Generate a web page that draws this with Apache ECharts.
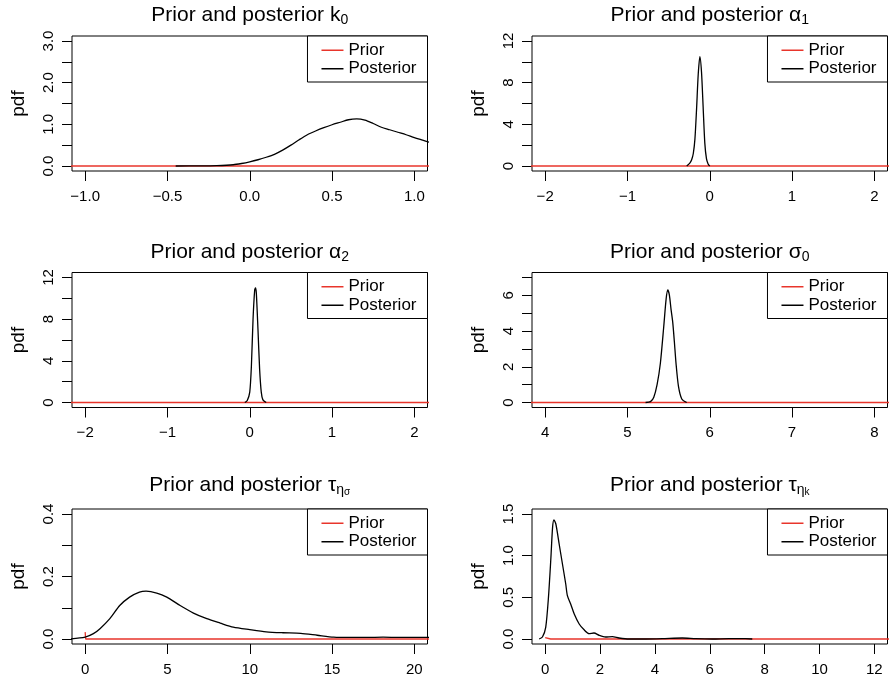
<!DOCTYPE html>
<html>
<head>
<meta charset="utf-8">
<script src="https://cdn.jsdelivr.net/npm/echarts@6/dist/echarts.min.js"></script>
<style>
  html, body { margin: 0; padding: 0; background: #fff; }
  #chart { width: 889px; height: 681px; }
</style>
</head>
<body>
<div id="chart"></div>
<script>
// posterior densities
const k0X = [-0.45, -0.3, -0.2, -0.1, -0.05, 0, 0.05, 0.1, 0.15, 0.2, 0.25, 0.3, 0.35, 0.4, 0.45, 0.5, 0.55, 0.6, 0.65, 0.7, 0.75, 0.8, 0.85, 0.9, 0.95, 1.0, 1.05, 1.1];
const k0Y = [0, 0.003, 0.01, 0.03, 0.06, 0.1, 0.15, 0.21, 0.28, 0.38, 0.5, 0.63, 0.75, 0.84, 0.92, 0.99, 1.05, 1.11, 1.13, 1.1, 1.02, 0.93, 0.87, 0.81, 0.75, 0.68, 0.62, 0.56];

const a1X = [-0.28, -0.24, -0.22, -0.2, -0.18, -0.16, -0.14, -0.12, -0.1, -0.08, -0.06, -0.04, -0.02, 0];
const a1Y = [0, 0.3, 0.6, 1.2, 2.6, 5.5, 8.8, 10.5, 9.0, 5.6, 2.2, 0.7, 0.2, 0];

const a2X = [-0.06, -0.03, 0, 0.02, 0.04, 0.06, 0.07, 0.08, 0.1, 0.12, 0.14, 0.16, 0.2];
const a2Y = [0, 0.2, 1.0, 3.5, 8.0, 10.8, 11.0, 10.5, 7.0, 3.2, 1.0, 0.25, 0];

const s0X = [5.22, 5.28, 5.32, 5.36, 5.40, 5.44, 5.47, 5.49, 5.51, 5.53, 5.55, 5.57, 5.59, 5.62, 5.66, 5.72];
const s0Y = [0, 0.05, 0.3, 1.0, 2.2, 4.2, 5.8, 6.3, 6.0, 5.2, 4.5, 3.4, 2.2, 0.9, 0.2, 0];

const tsX = [-1, 0, 0.5, 0.9, 1.5, 2.1, 2.7, 3.3, 3.7, 4.35, 4.96, 5.77, 6.58, 7.39, 8.2, 9.0, 10.0, 11.0, 12.0, 13.1, 14.1, 15.1, 16.1, 17.1, 18.1, 19.1, 20.1, 21];
const tsY = [0, 0.006, 0.017, 0.033, 0.065, 0.107, 0.134, 0.150, 0.153, 0.147, 0.134, 0.107, 0.083, 0.065, 0.051, 0.038, 0.030, 0.023, 0.020, 0.018, 0.012, 0.006, 0.005, 0.005, 0.006, 0.005, 0.005, 0.005];

const tkX = [-0.22, -0.1, 0.02, 0.12, 0.21, 0.27, 0.32, 0.39, 0.51, 0.63, 0.75, 0.81, 0.93, 1.06, 1.24, 1.42, 1.6, 1.78, 1.97, 2.2, 2.45, 2.69, 3.06, 3.67, 4.27, 5.0, 5.49, 6.1, 6.7, 7.3, 7.55];
const tkY = [0, 0.024, 0.14, 0.5, 0.98, 1.34, 1.43, 1.38, 1.14, 0.9, 0.66, 0.52, 0.42, 0.30, 0.18, 0.11, 0.064, 0.072, 0.044, 0.024, 0.028, 0.012, 0, 0, 0.004, 0.012, 0.004, 0, 0.004, 0.004, 0];

// priors are flat at this scale
const k0PriorX = [-1.1, 1.1];
const k0PriorY = [0, 0];
const a1PriorX = [-2.2, 2.2];
const a1PriorY = [0, 0];
const a2PriorX = [-2.2, 2.2];
const a2PriorY = [0, 0];
const s0PriorX = [3.8, 8.2];
const s0PriorY = [0, 0];
const tsPriorX = [0, 0.03, 21];
const tsPriorY = [0.022, 0, 0];
const tkPriorX = [0, 0.06, 0.2, 12.6];
const tkPriorY = [0.016, 0.004, 0, 0];

// tick positions / labels
const k0XTicks = [-1, -0.5, 0, 0.5, 1];
const k0YTicks = [0, 0.5, 1, 1.5, 2, 2.5, 3];
const k0YLabels = [0, 1, 2, 3];
const aXTicks = [-2, -1, 0, 1, 2];
const aYTicks = [0, 2, 4, 6, 8, 10, 12];
const aYLabels = [0, 4, 8, 12];
const s0XTicks = [4, 5, 6, 7, 8];
const s0YTicks = [0, 1, 2, 3, 4, 5, 6, 7];
const s0YLabels = [0, 2, 4, 6];
const tsXTicks = [0, 5, 10, 15, 20];
const tsYTicks = [0, 0.1, 0.2, 0.3, 0.4];
const tsYLabels = [0, 0.2, 0.4];
const tkXTicks = [0, 2, 4, 6, 8, 10, 12];
const tkYTicks = [0, 0.5, 1, 1.5];
const tkYLabels = [0, 0.5, 1, 1.5];

const FONT = '"Liberation Sans", Arial, Helvetica, sans-serif';
const RED = '#e8352b';
const W = 889;
const colLeft = [72, 532];
const rowTop = [36, 272.5, 509];
const titleTop = [3.5, 240, 473.5];
const PW = 355.5, PH = 135;

const panels = [
    { title: 'Prior and posterior k{s|0}', col: 0, row: 0, xMin: -1.08, xMax: 1.08, xTicks: k0XTicks, xDec: 1,
      yMin: -0.12, yMax: 3.12, yTicks: k0YTicks, yLabels: k0YLabels, yDec: 1,
      priorX: k0PriorX, priorY: k0PriorY, postX: k0X, postY: k0Y },
    { title: 'Prior and posterior \u03b1{s|1}', col: 1, row: 0, xMin: -2.16, xMax: 2.16, xTicks: aXTicks, xDec: 0,
      yMin: -0.48, yMax: 12.48, yTicks: aYTicks, yLabels: aYLabels, yDec: 0,
      priorX: a1PriorX, priorY: a1PriorY, postX: a1X, postY: a1Y },
    { title: 'Prior and posterior \u03b1{s|2}', col: 0, row: 1, xMin: -2.16, xMax: 2.16, xTicks: aXTicks, xDec: 0,
      yMin: -0.48, yMax: 12.48, yTicks: aYTicks, yLabels: aYLabels, yDec: 0,
      priorX: a2PriorX, priorY: a2PriorY, postX: a2X, postY: a2Y },
    { title: 'Prior and posterior \u03c3{s|0}', col: 1, row: 1, xMin: 3.84, xMax: 8.16, xTicks: s0XTicks, xDec: 0,
      yMin: -0.28, yMax: 7.28, yTicks: s0YTicks, yLabels: s0YLabels, yDec: 0,
      priorX: s0PriorX, priorY: s0PriorY, postX: s0X, postY: s0Y },
    { title: 'Prior and posterior \u03c4{s|\u03b7}{ss|\u03c3}', col: 0, row: 2, xMin: -0.8, xMax: 20.8, xTicks: tsXTicks, xDec: 0,
      yMin: -0.016, yMax: 0.416, yTicks: tsYTicks, yLabels: tsYLabels, yDec: 1,
      priorX: tsPriorX, priorY: tsPriorY, postX: tsX, postY: tsY },
    { title: 'Prior and posterior \u03c4{s|\u03b7}{ss|k}', col: 1, row: 2, xMin: -0.48, xMax: 12.48, xTicks: tkXTicks, xDec: 0,
      yMin: -0.06, yMax: 1.56, yTicks: tkYTicks, yLabels: tkYLabels, yDec: 1,
      priorX: tkPriorX, priorY: tkPriorY, postX: tkX, postY: tkY }
];

function fmt(v, d) {
    return (v < 0 ? '\u2212' : '') + Math.abs(v).toFixed(d);
}

function zip(xs, ys) {
    return xs.map((x, i) => [x, ys[i]]);
}

const option = {
    animation: false,
    backgroundColor: '#fff',
    title: [], legend: [], grid: [], xAxis: [], yAxis: [], series: []
};

panels.forEach((p, i) => {
    const left = colLeft[p.col];
    const top = rowTop[p.row];

    option.title.push({
        text: p.title,
        left: left + PW / 2,
        top: titleTop[p.row],
        textAlign: 'center',
        padding: 0,
        textStyle: {
            fontFamily: FONT, fontSize: 21, fontWeight: 'normal', color: '#000', lineHeight: 24,
            rich: {
                s: { fontFamily: FONT, fontSize: 14, lineHeight: 16, verticalAlign: 'bottom', color: '#000' },
                ss: { fontFamily: FONT, fontSize: 10, lineHeight: 10, verticalAlign: 'bottom', color: '#000' }
            }
        }
    });

    option.legend.push({
        data: ['Prior', 'Posterior'],
        orient: 'vertical',
        right: W - (left + PW),
        top: top,
        padding: [5, 11, 4, 14],
        itemGap: 0,
        itemWidth: 22,
        itemHeight: 1.5,
        icon: 'rect',
        selectedMode: false,
        backgroundColor: '#fff',
        borderColor: '#000',
        borderWidth: 1,
        borderRadius: 0,
        textStyle: { fontFamily: FONT, fontSize: 17, color: '#000', lineHeight: 18.5 }
    });

    option.grid.push({
        left: left, top: top, width: PW, height: PH,
        show: true, borderColor: '#000', borderWidth: 1, backgroundColor: 'transparent'
    });

    option.xAxis.push({
        type: 'value', gridIndex: i, min: p.xMin, max: p.xMax,
        axisLine: { show: false, onZero: false },
        splitLine: { show: false },
        axisTick: { show: true, length: 10, customValues: p.xTicks, lineStyle: { color: '#000', width: 1 } },
        axisLabel: {
            customValues: p.xTicks, margin: 18,
            formatter: v => fmt(v, p.xDec),
            fontFamily: FONT, fontSize: 15, color: '#000'
        }
    });

    option.yAxis.push({
        type: 'value', gridIndex: i, min: p.yMin, max: p.yMax,
        name: 'pdf', nameLocation: 'middle', nameGap: 44, nameRotate: 90,
        nameTextStyle: { fontFamily: FONT, fontSize: 19, color: '#000' },
        axisLine: { show: false, onZero: false },
        splitLine: { show: false },
        axisTick: { show: true, length: 10, customValues: p.yTicks, lineStyle: { color: '#000', width: 1 } },
        axisLabel: {
            customValues: p.yLabels, margin: 16, rotate: 90,
            formatter: v => fmt(v, p.yDec),
            fontFamily: FONT, fontSize: 15, color: '#000'
        }
    });

    option.series.push({
        name: 'Prior', type: 'line', xAxisIndex: i, yAxisIndex: i,
        data: zip(p.priorX, p.priorY),
        showSymbol: false, symbol: 'none',
        itemStyle: { color: RED },
        lineStyle: { color: RED, width: 1.3 }
    });
    option.series.push({
        name: 'Posterior', type: 'line', xAxisIndex: i, yAxisIndex: i,
        data: zip(p.postX, p.postY),
        showSymbol: false, symbol: 'none', smooth: 0.25,
        itemStyle: { color: '#000' },
        lineStyle: { color: '#000', width: 1.3 }
    });
});

const chart = echarts.init(document.getElementById('chart'));
chart.setOption(option);
</script>
</body>
</html>
